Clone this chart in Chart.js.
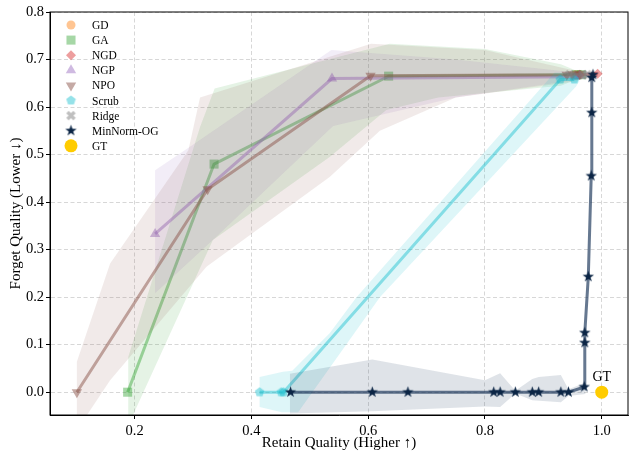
<!DOCTYPE html>
<html>
<head>
<meta charset="utf-8">
<script src="https://cdn.jsdelivr.net/npm/chart.js@4.4.0/dist/chart.umd.min.js"></script>
<style>
  body { margin: 0; background: #fff; }
</style>
</head>
<body>
<canvas id="chartbox" width="637" height="460"></canvas>
<script>
// axis ticks
const xTicks = [0.2, 0.4, 0.6, 0.8, 1.0]
const yTicks = [0.0, 0.1, 0.2, 0.3, 0.4, 0.5, 0.6, 0.7, 0.8]

// mean curves, [retain quality, forget quality]
const gdPts = [[0.955, 0.668], [0.962, 0.668]]
const gaPts = [[0.188, 0.0], [0.336, 0.48], [0.635, 0.665], [0.957, 0.668], [0.965, 0.668]]
const ngdPts = [[0.962, 0.668], [0.993, 0.670]]
const ngpPts = [[0.235, 0.333], [0.538, 0.66], [0.955, 0.664], [0.962, 0.666]]
const npoPts = [[0.101, 0.0], [0.325, 0.427], [0.604, 0.666], [0.940, 0.668], [0.950, 0.669], [0.962, 0.670]]
const scrubPts = [[0.414, 0.0], [0.451, 0.0], [0.455, 0.0], [0.929, 0.658], [0.953, 0.658]]
const ridgePts = [[0.945, 0.668], [0.968, 0.668], [0.975, 0.668]]
const minNormPts = [[0.467, 0.0], [0.607, 0.0], [0.668, 0.0], [0.815, 0.0], [0.826, 0.0], [0.852, 0.0],
  [0.881, 0.0], [0.892, 0.0], [0.930, 0.0], [0.943, 0.0], [0.970, 0.011], [0.971, 0.104],
  [0.971, 0.125], [0.977, 0.243], [0.982, 0.455], [0.983, 0.588], [0.983, 0.662], [0.985, 0.668]]
const gtPts = [[1.0, 0.0]]

// spread bands: upper edge and lower edge, left to right
const gaUpper = [[0.189, 0.074], [0.312, 0.558], [0.337, 0.639], [0.637, 0.733], [0.80, 0.722], [0.93, 0.69], [0.965, 0.672]]
const gaLower = [[0.189, -0.07], [0.334, 0.32], [0.534, 0.495], [0.631, 0.594], [0.72, 0.62], [0.93, 0.645], [0.965, 0.662]]
const ngpUpper = [[0.235, 0.467], [0.294, 0.516], [0.537, 0.72], [0.75, 0.70], [0.96, 0.672]]
const ngpLower = [[0.235, 0.208], [0.334, 0.32], [0.54, 0.56], [0.75, 0.62], [0.96, 0.658]]
const npoUpper = [[0.101, 0.064], [0.158, 0.271], [0.292, 0.509], [0.312, 0.62], [0.605, 0.733], [0.80, 0.72], [0.96, 0.675]]
const npoLower = [[0.101, -0.08], [0.158, 0.025], [0.323, 0.264], [0.534, 0.453], [0.62, 0.55], [0.75, 0.62], [0.96, 0.655]]
const scrubUpper = [[0.414, 0.032], [0.454, 0.043], [0.47, 0.045], [0.534, 0.124], [0.58, 0.2], [0.919, 0.672], [0.955, 0.672]]
const scrubLower = [[0.414, -0.031], [0.452, -0.042], [0.48, -0.042], [0.62, 0.2], [0.956, 0.643], [0.962, 0.655]]
const minNormUpper = [[0.466, 0.039], [0.607, 0.069], [0.80, 0.025], [0.826, 0.04], [0.852, 0.003], [0.881, 0.028],
  [0.892, 0.032], [0.930, 0.036], [0.943, 0.006], [0.972, 0.02]]
const minNormLower = [[0.466, -0.045], [0.607, -0.04], [0.80, -0.03], [0.826, -0.031], [0.852, -0.003], [0.881, -0.017],
  [0.930, -0.021], [0.943, -0.008], [0.972, -0.004]]

const toXY = pts => pts.map(p => ({ x: p[0], y: p[1] }))
const polygon = (upper, lower) => toXY(upper.concat(lower.slice().reverse()))

// custom marker shapes
function shapeMarker(size, color, build) {
  const c = document.createElement('canvas')
  c.width = c.height = size
  const g = c.getContext('2d')
  g.beginPath()
  build(g, size / 2)
  g.closePath()
  g.fillStyle = color
  g.fill()
  return c
}
function starMarker(size, color) {
  return shapeMarker(size, color, (g, m) => {
    const r = m - 0.5, ri = r * 0.39
    for (let i = 0; i < 10; i++) {
      const a = -Math.PI / 2 + i * Math.PI / 5
      const rr = i % 2 ? ri : r
      g.lineTo(m + rr * Math.cos(a), m + rr * Math.sin(a))
    }
  })
}
function pentagonMarker(size, color) {
  return shapeMarker(size, color, (g, m) => {
    const r = m - 0.5
    for (let i = 0; i < 5; i++) {
      const a = -Math.PI / 2 + i * 2 * Math.PI / 5
      g.lineTo(m + r * Math.cos(a), m + r * Math.sin(a))
    }
  })
}
function xMarker(size, color) {
  return shapeMarker(size, color, (g, m) => {
    const L = m - 0.5, w = 1.7
    const pts = [[-w, -L], [w, -L], [w, -w], [L, -w], [L, w], [w, w], [w, L], [-w, L], [-w, w], [-L, w], [-L, -w], [-w, -w]]
    const c = Math.SQRT1_2
    pts.forEach(([px, py]) => g.lineTo(m + (px - py) * c, m + (px + py) * c))
  })
}

const colors = {
  gd: 'rgba(255,127,14,0.45)', ga: 'rgba(44,160,44,0.42)', ngd: 'rgba(214,39,40,0.45)',
  ngp: 'rgba(148,103,189,0.45)', npo: 'rgba(140,86,75,0.5)', scrub: 'rgba(23,190,207,0.45)',
  ridge: 'rgba(127,127,127,0.5)', minNorm: '#0b2545', gt: '#ffcc00'
}
const scrubIcon = pentagonMarker(11, colors.scrub)
const ridgeIcon = xMarker(11, colors.ridge)
const starIcon = starMarker(13, colors.minNorm)

const methods = [
  { label: 'GD', pts: gdPts, color: colors.gd, style: 'circle', radius: 4.5 },
  { label: 'GA', pts: gaPts, color: colors.ga, style: 'rect', radius: 6.4, upper: gaUpper, lower: gaLower, band: 'rgba(44,160,44,0.12)' },
  { label: 'NGD', pts: ngdPts, color: colors.ngd, style: 'rectRot', radius: 5 },
  { label: 'NGP', pts: ngpPts, color: colors.ngp, style: 'triangle', radius: 6, upper: ngpUpper, lower: ngpLower, band: 'rgba(148,103,189,0.12)' },
  { label: 'NPO', pts: npoPts, color: colors.npo, style: 'triangle', rotation: 180, radius: 6, upper: npoUpper, lower: npoLower, band: 'rgba(140,86,75,0.12)' },
  { label: 'Scrub', pts: scrubPts, color: colors.scrub, style: scrubIcon, radius: 5, upper: scrubUpper, lower: scrubLower, band: 'rgba(23,190,207,0.14)' },
  { label: 'Ridge', pts: ridgePts, color: colors.ridge, style: ridgeIcon, radius: 5 },
  { label: 'MinNorm-OG', pts: minNormPts, color: colors.minNorm, line: 'rgba(20,48,85,0.65)', style: starIcon, radius: 6, upper: minNormUpper, lower: minNormLower, band: 'rgba(30,55,90,0.14)' },
  { label: 'GT', pts: gtPts, color: colors.gt, style: 'circle', radius: 6.5, noLine: true }
]

const datasets = []
methods.forEach(m => {
  if (m.upper) {
    datasets.push({
      data: polygon(m.upper, m.lower), fill: 'shape', backgroundColor: m.band,
      borderColor: 'transparent', borderWidth: 0, pointRadius: 0, tension: 0
    })
  }
  datasets.push({
    label: m.label, data: toXY(m.pts), showLine: !m.noLine,
    borderColor: m.line || m.color, borderWidth: 3, fill: false, tension: 0,
    pointStyle: m.style, pointRadius: m.radius, pointRotation: m.rotation || 0,
    pointBackgroundColor: m.color, pointBorderWidth: 0, pointHoverRadius: m.radius
  })
})
datasets.forEach((d, i) => { d.order = datasets.length - i })

const frameAndLegend = {
  id: 'frameAndLegend',
  afterDatasetsDraw(chart) {
    const { ctx, chartArea: a, scales } = chart
    ctx.save()
    ctx.strokeStyle = '#000'
    ctx.lineWidth = 1
    ctx.strokeRect(a.left, a.top, a.right - a.left, a.bottom - a.top)

    ctx.fillStyle = '#000'
    ctx.font = "14px 'Liberation Serif', serif"
    ctx.textAlign = 'center'
    ctx.textBaseline = 'middle'
    ctx.fillText('GT', scales.x.getPixelForValue(gtPts[0][0]), scales.y.getPixelForValue(gtPts[0][1]) - 15)

    ctx.textAlign = 'left'
    ctx.font = "11.5px 'Liberation Serif', serif"
    methods.forEach((m, i) => {
      const y = a.top + 13 + i * 15.1
      const x = a.left + 21
      ctx.fillStyle = m.color
      Chart.helpers.drawPoint(ctx, { pointStyle: m.style, radius: m.radius, rotation: m.rotation || 0, borderWidth: 0 }, x, y)
      ctx.fillStyle = '#000'
      ctx.fillText(m.label, a.left + 42, y + 1)
    })
    ctx.restore()
  }
}

Chart.defaults.font.family = "'Liberation Serif', serif"
Chart.defaults.color = '#000'

const axisCommon = {
  type: 'linear',
  grid: { color: 'rgba(0,0,0,0.2)', lineWidth: 0.8, tickColor: '#000', tickLength: 4, tickWidth: 1 },
  border: { display: true, color: '#000', dash: [4, 2.5] },
  ticks: { font: { size: 14.5 }, color: '#000' }
}

new Chart(document.querySelector('#chartbox'), {
  type: 'line',
  data: { datasets },
  options: {
    responsive: false,
    animation: false,
    events: [],
    layout: { padding: { top: 12, right: 9, left: 0, bottom: 0 } },
    plugins: { legend: { display: false }, tooltip: { enabled: false } },
    scales: {
      x: {
        ...axisCommon, min: 0.055, max: 1.045,
        ticks: { ...axisCommon.ticks, padding: 3, maxRotation: 0, callback: v => v.toFixed(1) },
        afterBuildTicks: s => { s.ticks = xTicks.map(v => ({ value: v })) },
        afterFit: s => { s.height = 45 },
        title: { display: true, text: 'Retain Quality (Higher ↑)', font: { size: 15 }, padding: { top: 0, bottom: 8 } }
      },
      y: {
        ...axisCommon, min: -0.048, max: 0.8,
        ticks: { ...axisCommon.ticks, padding: 2, callback: v => v.toFixed(1) },
        afterBuildTicks: s => { s.ticks = yTicks.map(v => ({ value: v })) },
        afterFit: s => { s.width = 50 },
        title: { display: true, text: 'Forget Quality (Lower ↓)', font: { size: 15 }, padding: { top: 7, bottom: 0 } }
      }
    }
  },
  plugins: [frameAndLegend]
})
</script>
</body>
</html>
